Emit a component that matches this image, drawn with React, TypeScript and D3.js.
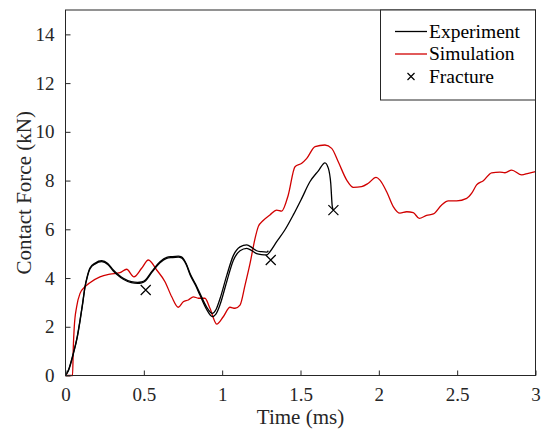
import React, { useEffect, useRef } from "react";
import * as d3 from "d3";

// Experiment, first specimen (ends near 1.29 ms)
const expTimeA = [0, 0.02, 0.05, 0.075, 0.093, 0.11, 0.124, 0.14, 0.156, 0.19, 0.231, 0.27, 0.305, 0.34, 0.369, 0.42, 0.46, 0.486, 0.51, 0.55, 0.603, 0.646, 0.68, 0.72, 0.74, 0.77, 0.795, 0.83, 0.858, 0.9, 0.937, 0.96, 0.986, 1.029, 1.071, 1.114, 1.157, 1.19, 1.22, 1.25, 1.284, 1.295];
const expForceA = [0, 0.25, 0.92, 1.6, 2.28, 3.0, 3.64, 4.1, 4.41, 4.62, 4.71, 4.6, 4.33, 4.12, 3.99, 3.85, 3.82, 3.84, 3.92, 4.26, 4.67, 4.85, 4.88, 4.9, 4.87, 4.6, 4.19, 3.75, 3.37, 2.82, 2.55, 2.7, 3.15, 4.1, 4.92, 5.28, 5.36, 5.25, 5.12, 5.08, 5.06, 5.12];

// Experiment, second specimen (runs on to fracture at 1.71 ms)
const expTimeB = [0, 0.02, 0.05, 0.075, 0.093, 0.11, 0.124, 0.14, 0.156, 0.19, 0.231, 0.27, 0.305, 0.34, 0.369, 0.42, 0.46, 0.486, 0.51, 0.55, 0.603, 0.646, 0.68, 0.72, 0.74, 0.77, 0.795, 0.83, 0.858, 0.9, 0.937, 0.96, 0.986, 1.029, 1.071, 1.114, 1.157, 1.19, 1.22, 1.25, 1.284, 1.305, 1.348, 1.4, 1.454, 1.508, 1.56, 1.614, 1.656, 1.678, 1.693, 1.703, 1.71];
const expForceB = [0, 0.22, 0.88, 1.56, 2.24, 2.96, 3.6, 4.06, 4.37, 4.58, 4.67, 4.56, 4.29, 4.08, 3.95, 3.81, 3.78, 3.8, 3.88, 4.22, 4.63, 4.81, 4.84, 4.86, 4.83, 4.56, 4.14, 3.7, 3.3, 2.72, 2.42, 2.52, 2.9, 3.85, 4.72, 5.12, 5.22, 5.12, 5.0, 4.96, 4.95, 5.08, 5.49, 5.97, 6.59, 7.27, 7.95, 8.4, 8.73, 8.5, 7.89, 6.93, 6.8];

// Simulation
const simTime = [0, 0.045, 0.05, 0.056, 0.071, 0.093, 0.124, 0.156, 0.22, 0.284, 0.348, 0.39, 0.437, 0.486, 0.529, 0.582, 0.635, 0.678, 0.72, 0.752, 0.784, 0.816, 0.848, 0.89, 0.922, 0.965, 1.007, 1.05, 1.082, 1.114, 1.146, 1.178, 1.21, 1.231, 1.26, 1.305, 1.348, 1.38, 1.422, 1.465, 1.508, 1.54, 1.593, 1.656, 1.699, 1.741, 1.795, 1.837, 1.89, 1.933, 1.982, 2.007, 2.05, 2.092, 2.135, 2.178, 2.22, 2.258, 2.305, 2.348, 2.401, 2.443, 2.497, 2.561, 2.593, 2.624, 2.667, 2.72, 2.773, 2.805, 2.848, 2.912, 2.954, 3.0];
const simForce = [0, 0, 1.2, 2.0, 2.82, 3.37, 3.64, 3.81, 4.05, 4.16, 4.22, 4.36, 4.05, 4.4, 4.74, 4.33, 3.85, 3.23, 2.8, 3.03, 3.1, 3.23, 3.17, 3.17, 2.76, 2.11, 2.41, 2.8, 2.76, 2.89, 3.71, 4.6, 5.63, 6.12, 6.35, 6.59, 6.79, 6.75, 7.41, 8.57, 8.71, 8.91, 9.39, 9.46, 9.32, 8.77, 8.02, 7.72, 7.75, 7.89, 8.13, 8.02, 7.54, 6.93, 6.66, 6.72, 6.68, 6.45, 6.57, 6.63, 7.0, 7.17, 7.17, 7.27, 7.48, 7.82, 7.99, 8.32, 8.35, 8.32, 8.43, 8.23, 8.3, 8.37];

// Fracture points
const fracTime = [0.512, 1.31, 1.71];
const fracForce = [3.51, 4.74, 6.79];

const xTicks = [0, 0.5, 1, 1.5, 2, 2.5, 3];
const yTicks = [0, 2, 4, 6, 8, 10, 12, 14];
const legendLabels = ["Experiment", "Simulation", "Fracture"];

const zip = (t: number[], f: number[]) => t.map((d, i) => [d, f[i]] as [number, number]);

export default function App() {
  const ref = useRef<SVGSVGElement>(null);

  useEffect(() => {
    const width = 544,
      height = 432,
      margin = { top: 10, left: 65.5, right: 8.5, bottom: 56.5 };
    const font = "Liberation Serif, Tinos, Times New Roman, serif";
    const ink = "#262626";
    const red = "#d10000";

    const svg = d3.select(ref.current);
    svg.selectAll("*").remove();
    svg.attr("width", width).attr("height", height);

    const x = d3.scaleLinear().domain([0, 3]).range([margin.left, width - margin.right]);
    const y = d3.scaleLinear().domain([0, 15]).range([height - margin.bottom, margin.top]);

    const line = d3
      .line<[number, number]>()
      .x((d) => x(d[0]))
      .y((d) => y(d[1]))
      .curve(d3.curveMonotoneX);

    const plot = svg.append("g");

    // Simulation curve
    plot
      .append("path")
      .attr("d", line(zip(simTime, simForce)))
      .attr("fill", "none")
      .attr("stroke", red)
      .attr("stroke-width", 1.3);

    // Experiment curves
    [zip(expTimeA, expForceA), zip(expTimeB, expForceB)].forEach((pts) => {
      plot
        .append("path")
        .attr("d", line(pts))
        .attr("fill", "none")
        .attr("stroke", "#000")
        .attr("stroke-width", 1.3);
    });

    // Fracture markers
    const cross = (g: any, cx: number, cy: number, r: number) => {
      g.append("path")
        .attr("d", `M${cx - r},${cy - r}L${cx + r},${cy + r}M${cx - r},${cy + r}L${cx + r},${cy - r}`)
        .attr("stroke", "#000")
        .attr("stroke-width", 1.2)
        .attr("fill", "none");
    };
    fracTime.forEach((t, i) => cross(plot, x(t), y(fracForce[i]), 5));

    // Axes box
    svg
      .append("rect")
      .attr("x", x(0))
      .attr("y", y(15))
      .attr("width", x(3) - x(0))
      .attr("height", y(0) - y(15))
      .attr("fill", "none")
      .attr("stroke", ink)
      .attr("stroke-width", 1);

    // X axis ticks (inside)
    const xAxis = svg.append("g").attr("transform", `translate(0, ${y(0)})`);
    xAxis
      .call(
        d3
          .axisBottom(x)
          .tickValues(xTicks)
          .tickSizeInner(-5)
          .tickSizeOuter(0)
          .tickPadding(12)
          .tickFormat((d) => String(d))
      )
      .call((g) => g.select(".domain").remove());
    xAxis.attr("font-family", null).attr("font-size", null);
    xAxis.selectAll(".tick line").attr("stroke", ink);
    xAxis
      .selectAll(".tick text")
      .attr("fill", ink)
      .style("font-family", font)
      .style("font-size", "19px");

    // Y axis ticks (inside)
    const yAxis = svg.append("g").attr("transform", `translate(${x(0)}, 0)`);
    yAxis
      .call(
        d3
          .axisLeft(y)
          .tickValues(yTicks)
          .tickSizeInner(-5)
          .tickSizeOuter(0)
          .tickPadding(11)
          .tickFormat((d) => String(d))
      )
      .call((g) => g.select(".domain").remove());
    yAxis.attr("font-family", null).attr("font-size", null);
    yAxis.selectAll(".tick line").attr("stroke", ink);
    yAxis
      .selectAll(".tick text")
      .attr("fill", ink)
      .style("font-family", font)
      .style("font-size", "19px");

    // Axis labels
    svg
      .append("text")
      .attr("x", (x(0) + x(3)) / 2)
      .attr("y", 424)
      .attr("text-anchor", "middle")
      .style("font-family", font)
      .style("font-size", "21px")
      .attr("fill", ink)
      .text("Time (ms)");

    svg
      .append("text")
      .attr("transform", `translate(31, ${(y(0) + y(15)) / 2}) rotate(-90)`)
      .attr("text-anchor", "middle")
      .style("font-family", font)
      .style("font-size", "21px")
      .attr("fill", ink)
      .text("Contact Force (kN)");

    // Legend
    const legend = svg.append("g");
    legend
      .append("rect")
      .attr("x", 380.5)
      .attr("y", y(15))
      .attr("width", x(3) - 380.5)
      .attr("height", 90)
      .attr("fill", "#fff")
      .attr("stroke", ink)
      .attr("stroke-width", 1);

    const rowY = [31.5, 54, 76.5];
    legendLabels.forEach((label, i) => {
      if (i < 2) {
        legend
          .append("line")
          .attr("x1", 395)
          .attr("x2", 427)
          .attr("y1", rowY[i])
          .attr("y2", rowY[i])
          .attr("stroke", i === 0 ? "#000" : red)
          .attr("stroke-width", 1.3);
      } else {
        cross(legend, 411, rowY[i], 3.5);
      }
      legend
        .append("text")
        .attr("x", 429)
        .attr("y", rowY[i])
        .attr("dy", "0.33em")
        .style("font-family", font)
        .style("font-size", "19.5px")
        .attr("fill", "#000")
        .text(label);
    });
  }, []);

  return (
    <svg
      ref={ref}
      style={{ position: "absolute", left: 0, top: 0, background: "#fff" }}
    ></svg>
  );
}
